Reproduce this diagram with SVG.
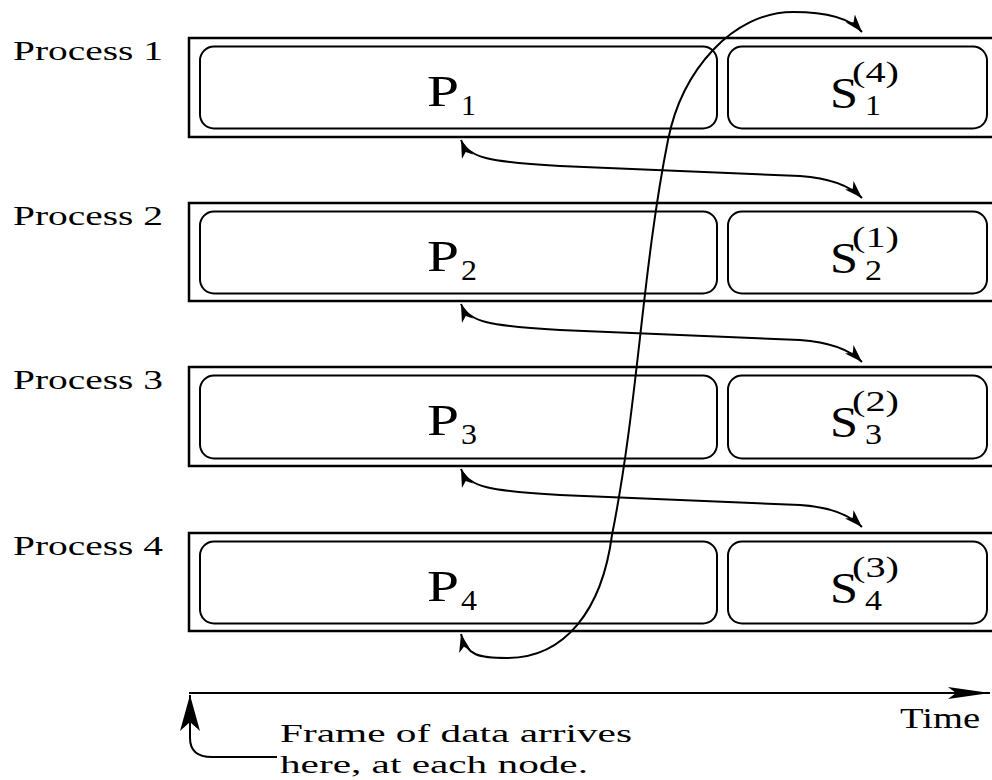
<svg xmlns="http://www.w3.org/2000/svg" width="992" height="780" viewBox="0 0 992 780">
<style>
.bg{fill:#fff}
.outer{fill:none;stroke:#000;stroke-width:2.5}
.inner{fill:none;stroke:#000;stroke-width:2}
.lbl{font-family:"Liberation Serif","Times New Roman",serif;font-size:27px;fill:#000}
.big{font-family:"Liberation Serif","Times New Roman",serif;font-size:44px;fill:#000}
.sm{font-family:"Liberation Serif","Times New Roman",serif;font-size:30px;fill:#000}
.note{font-family:"Liberation Serif","Times New Roman",serif;font-size:26px;fill:#000}
.con{fill:none;stroke:#000;stroke-width:2}
</style>
<defs>
<marker id="arr" markerUnits="userSpaceOnUse" viewBox="0 0 18 12" markerWidth="18" markerHeight="12" refX="18" refY="6" orient="auto-start-reverse"><path d="M0,0 L18,6 L0,12 L5,6 Z" fill="#000"/></marker>
<marker id="tarr" markerUnits="userSpaceOnUse" viewBox="0 0 42 12" markerWidth="42" markerHeight="12" refX="42" refY="6" orient="auto"><path d="M0,0 L42,6 L0,12 L8,6 Z" fill="#000"/></marker>
<marker id="farr" markerUnits="userSpaceOnUse" viewBox="0 0 36 20" markerWidth="36" markerHeight="20" refX="36" refY="10" orient="auto"><path d="M0,0 L36,10 L0,20 L9,10 Z" fill="#000"/></marker>
</defs>
<rect class="bg" x="0" y="0" width="992" height="780"/>

<g id="process1">
<text class="lbl" x="13" y="60" textLength="150" lengthAdjust="spacingAndGlyphs">Process 1</text>
<rect class="outer" x="189" y="38" width="810" height="99"/>
<rect class="inner" x="200" y="46.5" width="517" height="82" rx="14"/>
<rect class="inner" x="728" y="46.5" width="259" height="82" rx="14"/>
<text class="big" x="427" y="106" textLength="32" lengthAdjust="spacingAndGlyphs">P</text>
<text class="sm" x="461" y="115" textLength="15" lengthAdjust="spacingAndGlyphs">1</text>
<text class="big" x="830" y="108" textLength="28" lengthAdjust="spacingAndGlyphs">S</text>
<text class="sm" x="852" y="82" textLength="47" lengthAdjust="spacingAndGlyphs">(4)</text>
<text class="sm" x="865" y="115" textLength="16" lengthAdjust="spacingAndGlyphs">1</text>
</g>

<g id="process2">
<text class="lbl" x="13" y="225" textLength="150" lengthAdjust="spacingAndGlyphs">Process 2</text>
<rect class="outer" x="189" y="203" width="810" height="98"/>
<rect class="inner" x="200" y="211.5" width="517" height="82" rx="14"/>
<rect class="inner" x="728" y="211.5" width="259" height="82" rx="14"/>
<text class="big" x="427" y="271" textLength="32" lengthAdjust="spacingAndGlyphs">P</text>
<text class="sm" x="461" y="280" textLength="16" lengthAdjust="spacingAndGlyphs">2</text>
<text class="big" x="830" y="273" textLength="28" lengthAdjust="spacingAndGlyphs">S</text>
<text class="sm" x="852" y="247" textLength="47" lengthAdjust="spacingAndGlyphs">(1)</text>
<text class="sm" x="865" y="280" textLength="17" lengthAdjust="spacingAndGlyphs">2</text>
</g>

<g id="process3">
<text class="lbl" x="13" y="389" textLength="150" lengthAdjust="spacingAndGlyphs">Process 3</text>
<rect class="outer" x="189" y="367" width="810" height="99"/>
<rect class="inner" x="200" y="375.5" width="517" height="83" rx="14"/>
<rect class="inner" x="728" y="375.5" width="259" height="83" rx="14"/>
<text class="big" x="427" y="435" textLength="32" lengthAdjust="spacingAndGlyphs">P</text>
<text class="sm" x="461" y="444" textLength="16" lengthAdjust="spacingAndGlyphs">3</text>
<text class="big" x="830" y="437" textLength="28" lengthAdjust="spacingAndGlyphs">S</text>
<text class="sm" x="852" y="411" textLength="47" lengthAdjust="spacingAndGlyphs">(2)</text>
<text class="sm" x="865" y="444" textLength="17" lengthAdjust="spacingAndGlyphs">3</text>
</g>

<g id="process4">
<text class="lbl" x="13" y="555" textLength="150" lengthAdjust="spacingAndGlyphs">Process 4</text>
<rect class="outer" x="189" y="533" width="810" height="98"/>
<rect class="inner" x="200" y="541.5" width="517" height="82" rx="14"/>
<rect class="inner" x="728" y="541.5" width="259" height="82" rx="14"/>
<text class="big" x="427" y="601" textLength="32" lengthAdjust="spacingAndGlyphs">P</text>
<text class="sm" x="461" y="610" textLength="16" lengthAdjust="spacingAndGlyphs">4</text>
<text class="big" x="830" y="603" textLength="28" lengthAdjust="spacingAndGlyphs">S</text>
<text class="sm" x="852" y="577" textLength="47" lengthAdjust="spacingAndGlyphs">(3)</text>
<text class="sm" x="865" y="610" textLength="17" lengthAdjust="spacingAndGlyphs">4</text>
</g>

<g id="connectors">
<path class="con" d="M 461 140 C 468 158, 490 162, 560 166 L 800 176 C 830 178, 850 186, 862 198" marker-start="url(#arr)" marker-end="url(#arr)"/>
<path class="con" d="M 461 304 C 468 322, 490 326, 560 330 L 800 340 C 830 342, 850 350, 862 362" marker-start="url(#arr)" marker-end="url(#arr)"/>
<path class="con" d="M 461 469 C 468 487, 490 491, 560 495 L 800 505 C 830 507, 850 515, 862 527" marker-start="url(#arr)" marker-end="url(#arr)"/>
<path class="con" d="M 461 634 C 466 656, 480 658, 507 658 C 565 658, 602 610, 612 535 C 638 405, 642 270, 668 140 C 682 70, 733 12, 793 12 C 825 12, 850 18, 862 32" marker-start="url(#arr)" marker-end="url(#arr)"/>
</g>

<g id="time-axis">
<path class="con" d="M 189 693 L 990 693" marker-end="url(#tarr)"/>
<text class="sm" x="900" y="728" textLength="80" lengthAdjust="spacingAndGlyphs">Time</text>
</g>

<g id="frame-note">
<path class="con" d="M 277 757 L 212 757 C 196 757, 190 750, 190 738 L 190 695" marker-end="url(#farr)"/>
<text class="note" x="280" y="742" textLength="352" lengthAdjust="spacingAndGlyphs">Frame of data arrives</text>
<text class="note" x="280" y="773" textLength="308" lengthAdjust="spacingAndGlyphs">here, at each node.</text>
</g>
</svg>
